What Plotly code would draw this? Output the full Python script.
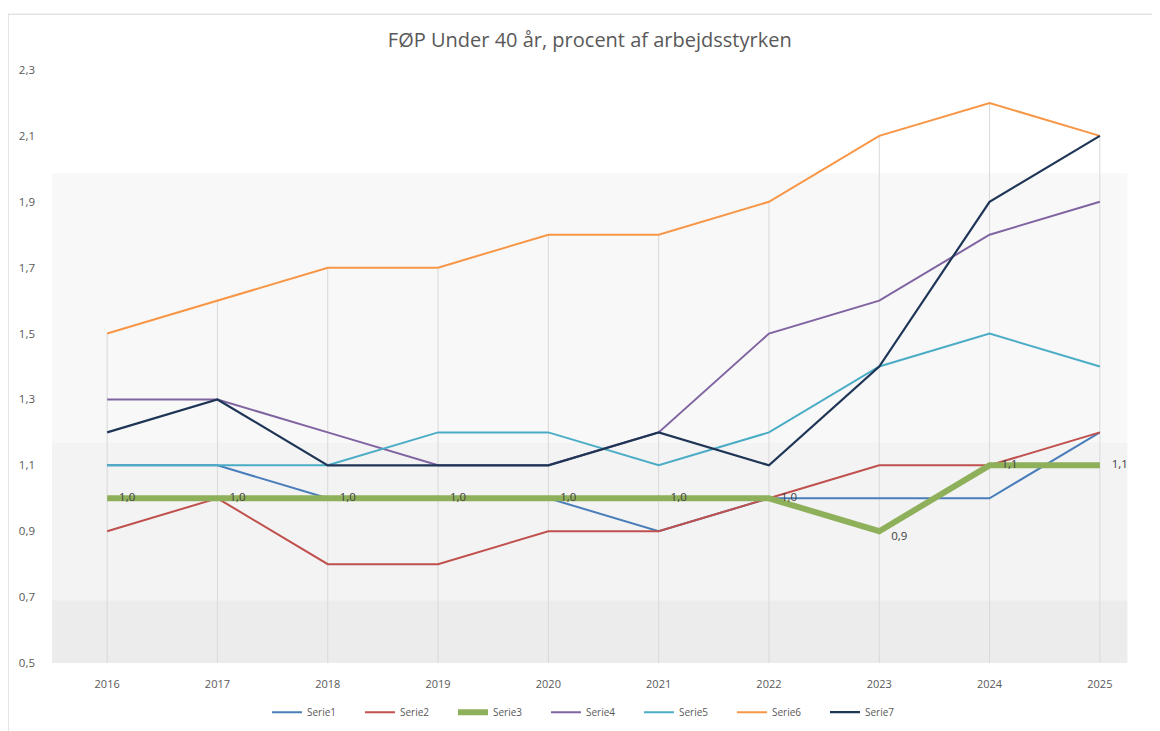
import plotly.graph_objects as go

years = [2016, 2017, 2018, 2019, 2020, 2021, 2022, 2023, 2024, 2025]
serie1 = [1.1, 1.1, 1.0, 1.0, 1.0, 0.9, 1.0, 1.0, 1.0, 1.2]
serie2 = [0.9, 1.0, 0.8, 0.8, 0.9, 0.9, 1.0, 1.1, 1.1, 1.2]
serie3 = [1.0, 1.0, 1.0, 1.0, 1.0, 1.0, 1.0, 0.9, 1.1, 1.1]
serie4 = [1.3, 1.3, 1.2, 1.1, 1.1, 1.2, 1.5, 1.6, 1.8, 1.9]
serie5 = [1.1, 1.1, 1.1, 1.2, 1.2, 1.1, 1.2, 1.4, 1.5, 1.4]
serie6 = [1.5, 1.6, 1.7, 1.7, 1.8, 1.8, 1.9, 2.1, 2.2, 2.1]
serie7 = [1.2, 1.3, 1.1, 1.1, 1.1, 1.2, 1.1, 1.4, 1.9, 2.1]
names = ["Serie1", "Serie2", "Serie3", "Serie4", "Serie5", "Serie6", "Serie7"]
yticks = [0.5, 0.7, 0.9, 1.1, 1.3, 1.5, 1.7, 1.9, 2.1, 2.3]

series = [serie1, serie2, serie3, serie4, serie5, serie6, serie7]
colors = ["#4a7ebb", "#c0504d", "#8fb05a", "#8064a2", "#4bacc6", "#f79646", "#1f3556"]
widths = [2, 2, 6, 2, 2, 2, 2.2]

W, H = 1152, 723  # page body adds an 8px offset
fig = go.Figure()

# drop lines from highest series value down to axis
dx, dy = [], []
for i, yr in enumerate(years):
    top = max(s[i] for s in series)
    dx += [yr, yr, None]
    dy += [yticks[0], top, None]
fig.add_trace(go.Scatter(x=dx, y=dy, mode="lines", line=dict(color="#d9d9d9", width=1),
                         showlegend=False, hoverinfo="skip"))

for idx, (nm, s, c, w) in enumerate(zip(names, series, colors, widths)):
    if nm == "Serie3":
        continue
    fig.add_trace(go.Scatter(x=years, y=s, name=nm, mode="lines",
                             line=dict(color=c, width=w), legendrank=idx + 1))

pos3 = ["middle right"] * len(years)
pos3[years.index(2023)] = "bottom right"
fig.add_trace(go.Scatter(x=years, y=serie3, name="Serie3", mode="lines+text",
                         line=dict(color=colors[2], width=widths[2]), legendrank=3,
                         texttemplate="    %{y:.1f}", textposition=pos3, cliponaxis=False,
                         textfont=dict(family="Open Sans", size=11.5, color="#404040")))

fig.update_layout(
    width=W, height=H,
    margin=dict(l=44, r=5, t=62, b=68, autoexpand=False),
    paper_bgcolor="white", plot_bgcolor="rgba(0,0,0,0)",
    separators=",.",
    title=dict(text="FØP Under 40 år, procent af arbejdsstyrken", x=0.505, xanchor="center",
               y=1 - 32 / H, yanchor="middle",
               font=dict(family="Open Sans", size=20, color="#595959")),
    font=dict(family="Open Sans", size=11, color="#595959"),
    legend=dict(orientation="h", x=0.49, xanchor="center", y=-0.083, yanchor="middle",
                font=dict(size=10, color="#595959"), traceorder="normal",
                entrywidth=48, bgcolor="rgba(0,0,0,0)"),
    showlegend=True,
)

fig.update_xaxes(range=[2015.5, 2025.5], tickvals=years, ticktext=[str(y) for y in years],
                 showgrid=False, zeroline=False, showline=False, ticks="", automargin=False,
                 ticklabelstandoff=13, tickfont=dict(size=11, color="#595959"))
fig.update_yaxes(range=[0.5, 2.3], tickvals=yticks, tickformat=".1f", automargin=False,
                 showgrid=False, zeroline=False, showline=False, ticks="",
                 ticklabelstandoff=16, tickfont=dict(size=11.5, color="#595959"))

bands = [(0.826, 1.0, "#ffffff"), (0.371, 0.826, "#f8f8f8"),
         (0.106, 0.371, "#f3f3f3"), (0.0, 0.106, "#ececec")]
for y0, y1, col in bands:
    fig.add_shape(type="rect", xref="paper", yref="paper", x0=0, x1=0.975, y0=y0, y1=y1,
                  fillcolor=col, line=dict(width=0), layer="below")

# outer chart frame (left and top)
fig.add_shape(type="line", xref="paper", yref="paper", x0=-0.0399, x1=-0.0399, y0=-0.2, y1=1.094,
              line=dict(color="#d9d9d9", width=1.5))
fig.add_shape(type="line", xref="paper", yref="paper", x0=-0.0399, x1=1.01, y0=1.094, y1=1.094,
              line=dict(color="#e3e3e3", width=1.5))

fig.write_html("out.html")
